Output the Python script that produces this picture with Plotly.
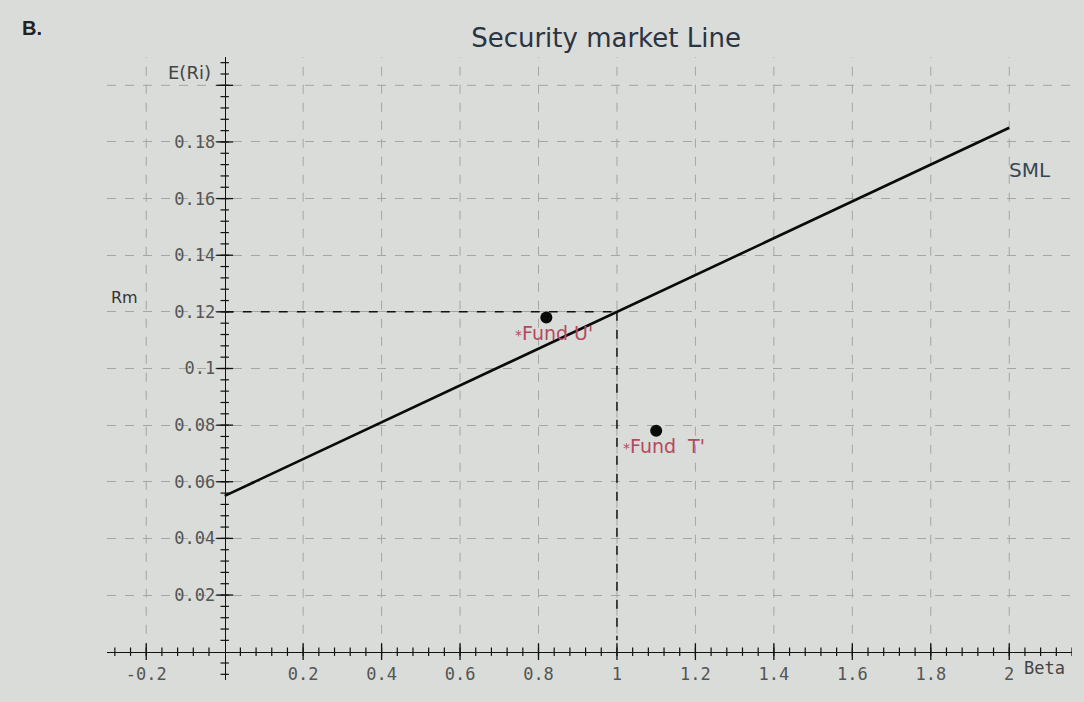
import numpy as np
import plotly.graph_objects as go

# ---- data ----
risk_free = 0.055
market_return = 0.12
sml_beta = [0.0, 2.0]
fund_names = ["<span style='font-size:14px'>*</span>Fund U'", "<span style='font-size:14px'>*</span>Fund  T'"]
fund_beta = [0.82, 1.10]
fund_return = [0.118, 0.078]
x_tick_vals = [-0.2, 0.2, 0.4, 0.6, 0.8, 1.0, 1.2, 1.4, 1.6, 1.8, 2.0]
x_tick_text = ["-0.2", "0.2", "0.4", "0.6", "0.8", "1", "1.2", "1.4", "1.6", "1.8", "2"]
y_tick_vals = [0.02, 0.04, 0.06, 0.08, 0.10, 0.12, 0.14, 0.16, 0.18]
y_tick_text = ["0.02", "0.04", "0.06", "0.08", "0.1", "0.12", "0.14", "0.16", "0.18"]
y_extra_grid = [0.20]

sml_return = [risk_free + (market_return - risk_free) * b for b in sml_beta]

XR = [-0.3, 2.16]
YR = [-0.01, 0.21]
BG = "#d9dcd9"
GRID = "#a3a6a4"
TICKFONT = dict(family="DejaVu Sans Mono", size=17, color="#555")

fig = go.Figure()

# vertical grid lines (only above the x axis)
for xv in x_tick_vals:
    fig.add_shape(type="line", xref="x", yref="y", x0=xv, x1=xv, y0=0, y1=YR[1],
                  line=dict(color=GRID, width=1, dash="dash"), layer="below")
for yv in y_extra_grid:
    fig.add_shape(type="line", xref="paper", yref="y", x0=0, x1=1, y0=yv, y1=yv,
                  line=dict(color=GRID, width=1, dash="dash"), layer="below")

# minor / major crossing tick marks on the axes
x_minor = np.round(np.arange(-0.28, 2.161, 0.04), 4)
x_minor = [v for v in x_minor if abs(v) > 1e-9]
y_minor = np.round(np.arange(-0.008, 0.2081, 0.004), 4)
y_minor = [v for v in y_minor if abs(v) > 1e-9]
y_major = y_tick_vals + y_extra_grid
fig.add_trace(go.Scatter(x=x_minor, y=[0] * len(x_minor), mode="markers", hoverinfo="skip",
                         marker=dict(symbol="line-ns", size=6, line=dict(width=1.2, color="#111"))))
fig.add_trace(go.Scatter(x=x_tick_vals, y=[0] * len(x_tick_vals), mode="markers", hoverinfo="skip",
                         marker=dict(symbol="line-ns", size=12, line=dict(width=1.3, color="#111"))))
fig.add_trace(go.Scatter(x=[0] * len(y_minor), y=y_minor, mode="markers", hoverinfo="skip",
                         marker=dict(symbol="line-ew", size=6, line=dict(width=1.2, color="#111"))))
fig.add_trace(go.Scatter(x=[0] * len(y_major), y=y_major, mode="markers", hoverinfo="skip",
                         marker=dict(symbol="line-ew", size=12, line=dict(width=1.3, color="#111"))))

# Rm guide lines
fig.add_trace(go.Scatter(x=[0, 1], y=[market_return, market_return], mode="lines", hoverinfo="skip",
                         line=dict(color="#111", width=1.5, dash="dash")))
fig.add_trace(go.Scatter(x=[1, 1], y=[market_return, 0.004], mode="lines", hoverinfo="skip",
                         line=dict(color="#111", width=1.5, dash="dash")))

# SML
fig.add_trace(go.Scatter(x=sml_beta, y=sml_return, mode="lines", name="SML",
                         line=dict(color="#0a0a0a", width=2.6)))

# funds
fig.add_trace(go.Scatter(x=fund_beta, y=fund_return, mode="markers", name="Funds",
                         marker=dict(color="#0a0a0a", size=12)))
for name, b, r in zip(fund_names, fund_beta, fund_return):
    fig.add_annotation(x=b, y=r, text=name, showarrow=False, xshift=8, yshift=-15,
                       font=dict(family="DejaVu Sans", size=19, color="#b5485e"))

# text labels
fig.add_annotation(x=2.054, y=0.170, text="SML", showarrow=False,
                   font=dict(family="DejaVu Sans", size=20, color="#3a4654"))
fig.add_annotation(x=-0.255, y=0.125, text="Rm", showarrow=False,
                   font=dict(family="DejaVu Sans", size=16, color="#333"))
fig.add_annotation(x=-0.09, y=0.2044, text="E(Ri)", showarrow=False,
                   font=dict(family="DejaVu Sans", size=18, color="#444"))
fig.add_annotation(x=2.09, y=-0.0058, text="Beta", showarrow=False,
                   font=dict(family="DejaVu Sans Mono", size=17, color="#444"))
fig.add_annotation(xref="paper", yref="paper", x=-0.09, y=1.0466, xanchor="left", yanchor="middle",
                   text="<b>B.</b>", showarrow=False,
                   font=dict(family="Liberation Sans", size=20, color="#222"))

x_pos = (0 - XR[0]) / (XR[1] - XR[0])
y_pos = (0 - YR[0]) / (YR[1] - YR[0])

fig.update_layout(
    width=1084, height=702,
    margin=dict(l=107, r=12, t=57, b=22),
    paper_bgcolor=BG, plot_bgcolor=BG,
    showlegend=False,
    title=dict(text="Security market Line", x=606 / 1084, xanchor="center",
               y=1 - 38 / 702, yanchor="middle",
               font=dict(family="DejaVu Sans", size=26, color="#2a3442")),
    xaxis=dict(range=XR, tickvals=x_tick_vals, ticktext=x_tick_text, ticks="",
               showgrid=False,
               zeroline=False, showline=True, linecolor="#111", linewidth=1.3,
               anchor="free", position=y_pos, ticklabelstandoff=7,
               tickfont=TICKFONT),
    yaxis=dict(range=YR, tickvals=y_tick_vals, ticktext=y_tick_text, ticks="",
               showgrid=True, gridcolor=GRID, griddash="dash", gridwidth=1,
               zeroline=False, showline=True, linecolor="#111", linewidth=1.3,
               anchor="free", position=x_pos, ticklabelstandoff=6,
               tickfont=TICKFONT),
)

fig.write_html("out.html", config={"displayModeBar": False},
               post_script="document.body.style.margin='0';document.body.style.background='%s';" % BG)
